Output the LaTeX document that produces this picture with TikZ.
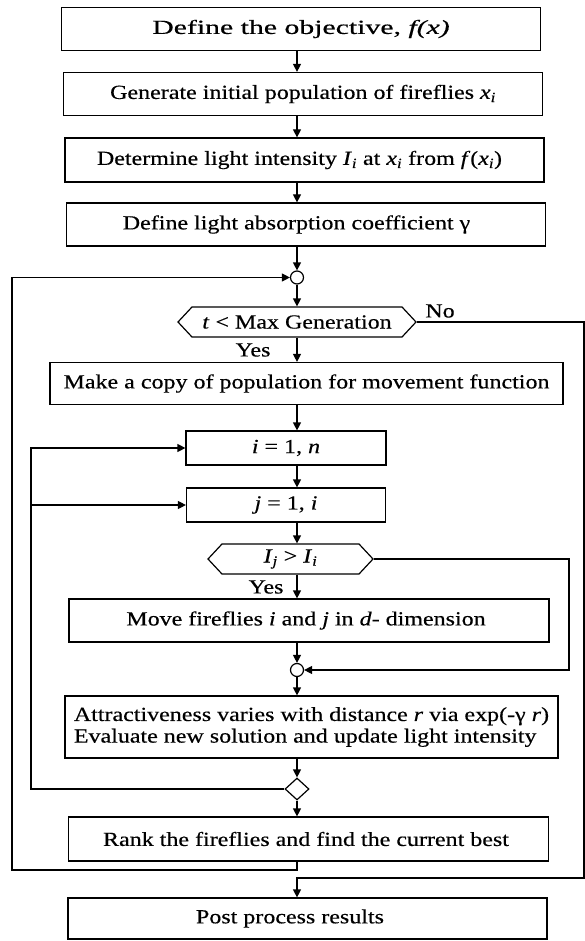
\documentclass[tikz,border=0pt]{standalone}
\usepackage{fontspec}
\setmainfont{Liberation Serif}[FakeStretch=1.2,FakeBold=0.4]
\usetikzlibrary{arrows.meta,shapes.geometric,shapes.symbols}

\tikzset{
  >={Triangle[length=8pt,width=8pt]},
  stepbox/.style={draw, minimum height=43pt, inner sep=2pt, font=\fontsize{20}{21.6}\selectfont},
  test/.style={draw, signal, signal to=east and west, signal pointer angle=94,
    minimum height=30pt, inner sep=1pt, font=\fontsize{20}{22}\selectfont},
  joint/.style={draw, circle, minimum size=13pt, inner sep=0pt},
  endloop/.style={draw, diamond, minimum width=24pt, minimum height=22pt, inner sep=0pt},
  note/.style={font=\fontsize{20}{22}\selectfont, inner sep=1pt}
}
\newcommand{\ital}[1]{\textit{#1}}
\newcommand{\isub}[2]{\textit{#1}\textsubscript{\textit{#2}}}

\begin{document}
\begin{tikzpicture}[yscale=-1, line width=1.2pt]
  \useasboundingbox (0,0) rectangle (585pt,941pt);
  \coordinate (spine) at (297pt,0pt);

  \node[stepbox, minimum width=479pt] (objective) at (301pt,29pt) {\scalebox{1.24}[1]{Define the objective, \ital{f(x)}}};
  \node[stepbox, minimum width=479pt] (population) at (303pt,94pt) {Generate initial population of fireflies \isub{x}{i}};
  \node[stepbox, minimum width=479pt, minimum height=44pt] (intensity) at (304.5pt,160pt) {Determine light intensity \isub{I}{i} at \isub{x}{i} from \ital{f}(\isub{x}{i})\hspace*{10pt}};
  \node[stepbox, minimum width=479pt] (absorb) at (306pt,224.5pt) {Define light absorption coefficient γ\hspace*{19pt}};
  \node[joint] (join1) at (297pt,277.5pt) {};
  \node[test, minimum width=238pt] (gen) at (297pt,322pt) {\ital{t} < Max Generation};
  \node[stepbox, minimum width=513pt, minimum height=42pt] (copy) at (306.5pt,383.5pt) {Make a copy of population for movement function};
  \node[stepbox, minimum width=200pt, minimum height=34pt] (iloop) at (286pt,448pt) {\ital{i} = 1, \ital{n}};
  \node[stepbox, minimum width=199pt, minimum height=34pt] (jloop) at (286pt,505pt) {\ital{j} = 1, \ital{i}};
  \node[test, minimum width=165pt] (brighter) at (290.5pt,559pt) {\isub{I}{j} > \isub{I}{i}};
  \node[stepbox, minimum width=480pt] (move) at (309pt,620.5pt) {Move fireflies \ital{i} and \ital{j} in \ital{d}- dimension\hspace*{6pt}};
  \node[joint] (join2) at (297pt,670pt) {};
  \node[stepbox, minimum width=493pt, minimum height=62pt, align=left] (attract) at (311.5pt,727pt) {Attractiveness varies with distance \ital{r} via exp(-γ \ital{r})\\Evaluate new solution and update light intensity};
  \node[endloop] (jend) at (297pt,789pt) {};
  \node[stepbox, minimum width=480pt, minimum height=44pt] (rank) at (308.5pt,839pt) {Rank the fireflies and find the current best\hspace*{5pt}};
  \node[stepbox, minimum width=479pt, minimum height=41pt] (post) at (307.5pt,918.5pt) {Post process results\hspace*{35pt}};

  \node[note] (no) at (440pt,311pt) {No};
  \node[note] (yes1) at (253pt,350pt) {Yes};
  \node[note] (yes2) at (266pt,587pt) {Yes};

  \draw[->] (objective.south -| spine) -- (population.north -| spine);
  \draw[->] (population.south -| spine) -- (intensity.north -| spine);
  \draw[->] (intensity.south -| spine) -- (absorb.north -| spine);
  \draw[->] (absorb.south -| spine) -- (join1.north);
  \draw[->] (join1.south) -- (gen.north);
  \draw[->] (gen.south) -- (copy.north -| spine);
  \draw[->] (copy.south -| spine) -- (iloop.north -| spine);
  \draw[->] (iloop.south -| spine) -- (jloop.north -| spine);
  \draw[->] (jloop.south -| spine) -- (brighter.north -| spine);
  \draw[->] (brighter.south -| spine) -- (move.north -| spine);
  \draw[->] (move.south -| spine) -- (join2.north);
  \draw[->] (join2.south) -- (attract.north -| spine);
  \draw[->] (attract.south -| spine) -- (jend.north);
  \draw[->] (jend.south) -- (rank.north -| spine);

  % loops back
  \coordinate (outer) at (12pt,870pt);
  \draw[->] (rank.south -| spine) |- (outer) |- (join1.west);
  \coordinate (inner) at (31pt,789pt);
  \draw[->] (jend.west) -- (inner) |- (iloop.west);
  \draw[->] (inner |- jloop.west) -- (jloop.west);
  \coordinate (skip) at (569pt,670pt);
  \draw[->] (brighter.east) -| (skip) -- (join2.east);
  \coordinate (exit) at (584pt,878pt);
  \draw[->] (gen.east) -| (exit) -| (post.north -| spine);
\end{tikzpicture}
\end{document}
